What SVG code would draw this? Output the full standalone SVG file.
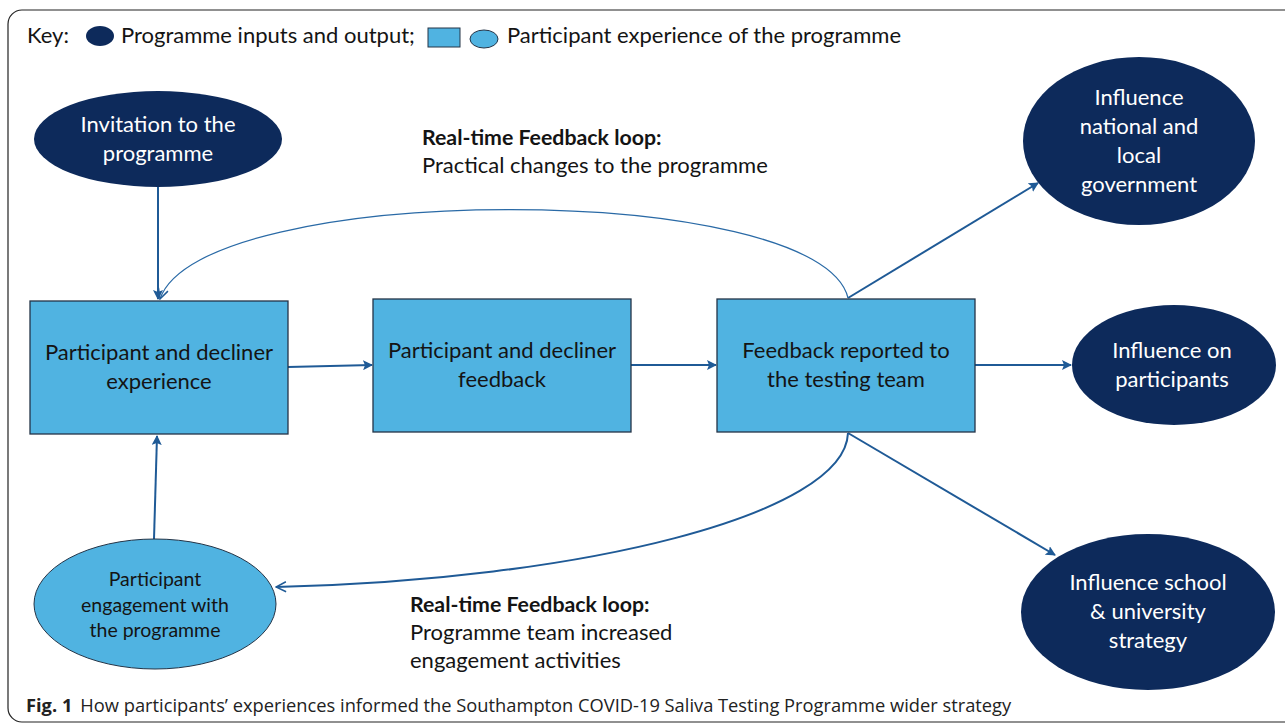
<svg xmlns="http://www.w3.org/2000/svg" width="1285" height="726" viewBox="0 0 1285 726">
<style>
.box{fill:#50B3E1;stroke:#243447;stroke-width:1.3}
.dk{fill:#0D2A5B}
.lt{fill:#50B3E1;stroke:#243447;stroke-width:1}
.t{font-family:Lato,"Liberation Sans",sans-serif;font-size:22px;fill:#141414;text-anchor:middle}
.w{font-family:Lato,"Liberation Sans",sans-serif;font-size:22px;fill:#FFFFFF;text-anchor:middle}
.lbl{font-family:Lato,"Liberation Sans",sans-serif;font-size:22px;fill:#141414}
.b{font-weight:bold;font-size:21.3px}
.c{fill:none;stroke:#1F5A96;stroke-width:2}
.cc{fill:none;stroke:#2A6AA6;stroke-width:1.2}
</style>
<defs>
<marker id="ah2" viewBox="0 0 10 10" refX="9" refY="5" markerWidth="10" markerHeight="10" orient="auto" markerUnits="userSpaceOnUse">
<path d="M0,0 L10,5 L0,10 L2,5 z" fill="#1F5A96"/>
</marker>
<marker id="op" viewBox="0 0 12 12" refX="11" refY="6" markerWidth="12" markerHeight="12" orient="auto" markerUnits="userSpaceOnUse">
<path d="M1,1 L11,6 L1,11" fill="none" stroke="#1F5A96" stroke-width="1.5"/>
</marker>
</defs>
<rect width="1285" height="726" fill="#FFFFFF"/>
<rect x="8" y="10" width="1300" height="712" rx="14" fill="none" stroke="#222" stroke-width="1.2"/>

<g id="key">
<text x="27" y="43" class="lbl">Key:</text>
<ellipse cx="100" cy="36" rx="14" ry="10" class="dk"/>
<text x="121" y="43" class="lbl">Programme inputs and output;</text>
<rect x="428" y="28" width="32" height="19" class="lt"/>
<ellipse cx="484" cy="39" rx="14" ry="9" class="lt"/>
<text x="507" y="43" class="lbl">Participant experience of the programme</text>
</g>

<g id="connectors">
<line x1="158" y1="187" x2="158" y2="299" class="c" marker-end="url(#ah2)"/>
<line x1="154" y1="539" x2="157" y2="436" class="c" marker-end="url(#ah2)"/>
<line x1="288" y1="367" x2="372" y2="365" class="c" marker-end="url(#ah2)"/>
<line x1="631" y1="365" x2="716" y2="365" class="c" marker-end="url(#ah2)"/>
<line x1="975" y1="365" x2="1071" y2="365" class="c" marker-end="url(#ah2)"/>
<line x1="848" y1="298" x2="1038" y2="183" class="c" marker-end="url(#ah2)"/>
<line x1="848" y1="433" x2="1055" y2="555" class="c" marker-end="url(#ah2)"/>
<path d="M848,298 C820,180 200,180 160,299" class="cc" marker-end="url(#op)"/>
<path d="M848,433 C845,515 580,580 276,587" class="c" marker-end="url(#op)"/>
</g>

<g id="invitation">
<ellipse cx="158" cy="139" rx="124" ry="48" class="dk"/>
<text x="158" y="132" class="w">Invitation to the</text>
<text x="158" y="161" class="w">programme</text>
</g>

<g id="experience">
<rect x="30" y="301" width="258" height="133" class="box"/>
<text x="159" y="360" class="t">Participant and decliner</text>
<text x="159" y="389" class="t">experience</text>
</g>

<g id="feedback">
<rect x="373" y="299" width="258" height="133" class="box"/>
<text x="502" y="358" class="t">Participant and decliner</text>
<text x="502" y="387" class="t">feedback</text>
</g>

<g id="reported">
<rect x="717" y="299" width="258" height="133" class="box"/>
<text x="846" y="358" class="t">Feedback reported to</text>
<text x="846" y="387" class="t">the testing team</text>
</g>

<g id="national">
<ellipse cx="1139" cy="141" rx="116" ry="84" class="dk"/>
<text x="1139" y="105" class="w">Influence</text>
<text x="1139" y="134" class="w">national and</text>
<text x="1139" y="163" class="w">local</text>
<text x="1139" y="192" class="w">government</text>
</g>

<g id="participants">
<ellipse cx="1174" cy="365" rx="102" ry="60" class="dk"/>
<text x="1172" y="358" class="w">Influence on</text>
<text x="1172" y="387" class="w">participants</text>
</g>

<g id="school">
<ellipse cx="1148" cy="612" rx="127" ry="78" class="dk"/>
<text x="1148" y="590" class="w">Influence school</text>
<text x="1148" y="619" class="w">&amp; university</text>
<text x="1148" y="648" class="w">strategy</text>
</g>

<g id="engagement">
<ellipse cx="155" cy="604" rx="121" ry="65" class="lt"/>
<text x="155" y="586" class="t" style="font-size:19.5px">Participant</text>
<text x="155" y="612" class="t" style="font-size:19.5px">engagement with</text>
<text x="155" y="637" class="t" style="font-size:19.5px">the programme</text>
</g>

<g id="labels">
<text x="422" y="145" class="lbl b">Real-time Feedback loop:</text>
<text x="422" y="173" class="lbl">Practical changes to the programme</text>
<text x="410" y="612" class="lbl b">Real-time Feedback loop:</text>
<text x="410" y="640" class="lbl">Programme team increased</text>
<text x="410" y="668" class="lbl">engagement activities</text>
</g>

<g id="caption">
<text x="26" y="712" font-family="'Open Sans',sans-serif" font-size="18.3" fill="#222"><tspan font-weight="bold">Fig. 1</tspan><tspan dx="8">How participants’ experiences informed the Southampton COVID-19 Saliva Testing Programme wider strategy</tspan></text>
</g>
</svg>
